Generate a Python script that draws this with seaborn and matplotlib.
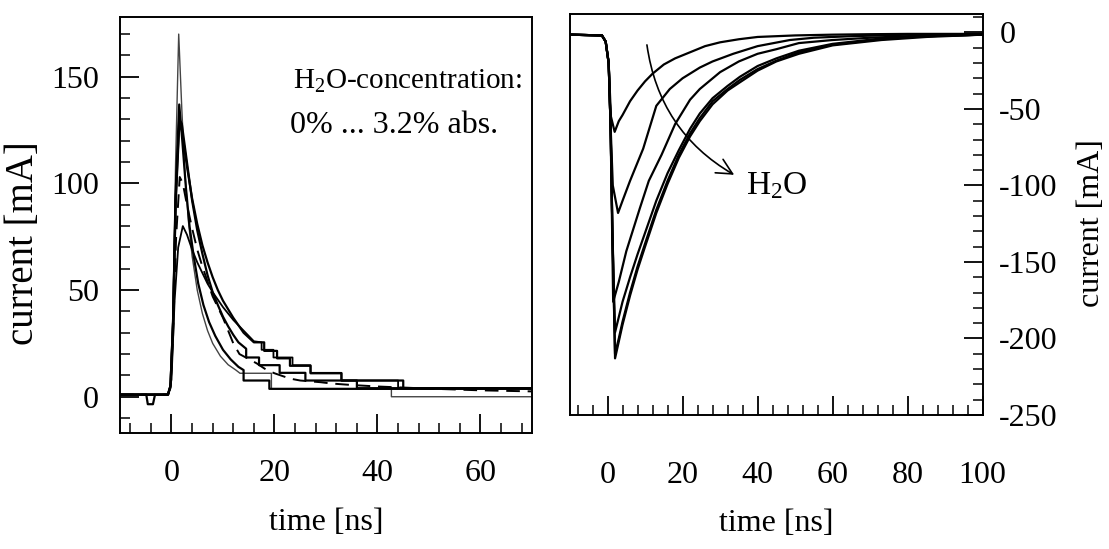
import matplotlib
matplotlib.use("Agg")
import matplotlib.pyplot as plt
from matplotlib.ticker import MultipleLocator
import numpy as np
import pandas as pd
import seaborn as sns

# ---------------- data ----------------
# Left panel: current pulses for increasing H2O concentration
tA = [-10, -0.7, -0.2, 0.3, 0.8, 1.4, 2.0, 2.6, 3.3, 4.0, 5.0, 6.0, 7.0, 8.0, 9.5, 11.0, 12.5, 13.3, 19.4, 19.4, 42.7, 42.7, 70]
iA = [1.0, 1.0, 5, 40, 110, 170, 135, 105, 82, 66, 50, 39, 31, 25, 19, 15, 12.5, 11, 11, 3.7, 3.7, 0, 0]

tB = [-10, -0.7, -0.2, 0.3, 0.8, 1.5, 2.1, 2.8, 3.5, 4.3, 5.2, 6.2, 7.3, 8.5, 10, 11.5, 13, 14, 14, 19, 19, 70]
iB = [1.0, 1.0, 5, 35, 95, 137, 120, 98, 80, 66, 53, 43, 35, 28.5, 22, 17.5, 14, 12.5, 7.6, 7.6, 3.7, 3.7]

tC = [-10, -0.7, -0.2, 0.3, 0.8, 1.5, 2.0, 3, 4, 5, 6, 7, 8, 9, 10, 11, 12, 13, 14.5, 14.5, 17, 17, 21, 21, 26, 26, 36, 36, 70]
iC = [1.0, 1.0, 5, 35, 92, 130, 128, 110, 92, 78, 67, 57, 49, 43, 37.5, 33, 29, 25.5, 22.5, 18.4, 18.4, 14.8, 14.8, 11.2, 11.2, 7.6, 7.6, 4.0, 4.0]

tD = [-10, -4.9, -4.6, -3.6, -3.2, -0.7, -0.2, 0.3, 0.8, 1.5, 2.0, 3, 4, 5, 6, 7, 8, 9, 10, 12, 14, 16, 18, 18, 20.5, 20.5, 23, 23, 27, 27, 33, 33, 45, 45, 70]
iD = [1.0, 1.0, -3.5, -3.5, 1.0, 1.0, 5, 33, 90, 127, 125, 108, 93, 81, 71, 63, 56, 50, 45, 37, 30, 25.5, 25.5, 21.5, 21.5, 18, 18, 14.5, 14.5, 11, 11, 7.6, 7.6, 4.0, 4.0]

tE = [-10, -0.7, -0.2, 0.3, 0.9, 1.6, 2.2, 3, 4, 5, 6, 8, 10, 12, 13.2, 16.5, 18.5, 20, 23, 25, 29, 31, 35, 40, 50, 60, 70]
iE = [1.0, 1.0, 4, 28, 75, 103, 100, 90, 79, 69, 61, 47, 37, 25, 20, 15.7, 12.5, 11, 8.5, 7.6, 6.8, 6.2, 5.5, 4.8, 3.8, 3.0, 2.5]

tF = [-10, -0.6, 0.0, 0.6, 1.3, 2.2, 3, 4, 5, 6, 7, 8, 9, 10, 12, 14, 16, 17.5, 17.5, 19.8, 19.8, 23.5, 23.5, 27, 27, 33, 33, 44, 44, 70]
iF = [1.0, 1.0, 8, 45, 70, 80, 76, 69, 63, 58, 53, 49, 45.5, 42, 36, 31, 26, 25.5, 22, 22, 18.4, 18.4, 14.8, 14.8, 11.2, 11.2, 7.6, 7.6, 4.0, 4.0]

left_series = [("A", tA, iA), ("B", tB, iB), ("C", tC, iC), ("D", tD, iD), ("E", tE, iE), ("F", tF, iF)]

# Right panel: negative current pulses, arrow shows increasing H2O
tR1 = [-10, -1.5, -0.5, 0.3, 0.9, 1.9, 3, 4, 6, 8, 10, 12, 15, 18, 22, 26, 30, 35, 40, 50, 60, 70, 80, 90, 100]
iR1 = [-1.5, -2, -6, -20, -55, -65, -58, -54, -45, -38, -32, -27, -21, -17, -13, -9, -6.5, -4.5, -3, -2, -1.5, -1.2, -1, -1, -1]

tR2 = [-10, -1.5, -0.5, 0.3, 0.8, 1.4, 2.8, 4, 6, 9.5, 13, 16.6, 20, 24.6, 28, 33.5, 40, 48.6, 55, 65, 80, 100]
iR2 = [-1.5, -2, -6, -20, -60, -100, -118, -110, -97, -76, -48, -37, -30, -23, -19, -14, -9, -5, -3.5, -2.5, -1.5, -1]

tR3 = [-10, -1.5, -0.5, 0.3, 0.8, 1.5, 3, 5, 8.6, 11, 14.4, 18, 22, 24.6, 30, 35, 40, 45, 51, 60, 70, 80, 90, 100]
iR3 = [-1.5, -2, -6, -20, -60, -176, -163, -143, -115, -97, -80, -60, -44, -37, -26, -19, -14, -11, -7, -5, -3.5, -2.5, -2, -1.5]

tR4 = [-10, -1.5, -0.5, 0.3, 0.8, 1.3, 2.0, 3, 4, 6, 8, 10, 13, 16, 19, 22, 24.6, 28, 32, 35.3, 40, 45, 51, 60, 73, 85, 100]
iR4 = [-1.5, -2, -6, -20, -60, -130, -196, -186, -176, -160, -145, -131, -110, -92, -77, -63, -53, -43, -35, -29, -22, -17, -12, -7.5, -4, -2.5, -1.5]

tR5 = [-10, -1.5, -0.5, 0.3, 0.8, 1.3, 2.0, 3, 4, 6, 8, 10, 13, 16, 19, 22, 24.6, 28, 32, 35.3, 40, 45, 51, 60, 73, 85, 100]
iR5 = [-1.5, -2, -6, -20, -60, -130, -210, -200, -189, -170, -153, -138, -116, -97, -80, -66, -56, -45, -37, -31, -24, -18.5, -13, -8, -4.5, -2.5, -1.5]

tR6 = [-10, -1.5, -0.5, 0.3, 0.8, 1.3, 2.0, 3, 4, 6, 8, 10, 13, 16, 19, 22, 24.6, 28, 32, 35.3, 40, 45, 51, 60, 73, 85, 100]
iR6 = [-1.5, -2, -6, -20, -60, -130, -213, -202, -191, -172, -155, -140, -118, -99, -82, -68, -58, -47, -38, -32.6, -25, -19, -14, -8.5, -5, -3, -1.5]

right_series = [("R1", tR1, iR1), ("R2", tR2, iR2), ("R3", tR3, iR3),
                ("R4", tR4, iR4), ("R5", tR5, iR5), ("R6", tR6, iR6)]

left_yticks = [0, 50, 100, 150]
right_yticks = [0, -50, -100, -150, -200, -250]
left_xticks = [0, 20, 40, 60]
right_xticks = [0, 20, 40, 60, 80, 100]

# ---------------- style ----------------
sns.set_theme(style="ticks")
plt.rcParams["font.family"] = ["Liberation Serif", "DejaVu Serif"]
plt.rcParams["mathtext.fontset"] = "custom"
plt.rcParams["mathtext.rm"] = "Liberation Serif"
plt.rcParams["mathtext.it"] = "Liberation Serif:italic"
plt.rcParams["axes.unicode_minus"] = False
plt.rcParams["axes.edgecolor"] = "black"
plt.rcParams["axes.labelcolor"] = "black"
plt.rcParams["axes.linewidth"] = 1.4
plt.rcParams["xtick.color"] = "black"
plt.rcParams["ytick.color"] = "black"
plt.rcParams["xtick.labelcolor"] = "black"
plt.rcParams["ytick.labelcolor"] = "black"
plt.rcParams["text.color"] = "black"

fig = plt.figure(figsize=(11.09, 5.49), dpi=100)
axL = fig.add_axes([0.1082, 0.2113, 0.3715, 0.7577])
axR = fig.add_axes([0.514, 0.2441, 0.3721, 0.7304])

# ---------------- left panel ----------------
styles_L = {"A": dict(lw=1.0, color="#444444", ls="-"),
            "B": dict(lw=1.6, color="black", ls="-"),
            "C": dict(lw=1.6, color="black", ls="-"),
            "D": dict(lw=1.6, color="black", ls="-"),
            "E": dict(lw=1.4, color="black", ls=(0, (7, 4))),
            "F": dict(lw=1.3, color="black", ls="-")}
for name, t, i in left_series:
    df = pd.DataFrame({"t": t, "i": i})
    sns.lineplot(data=df, x="t", y="i", ax=axL, sort=False, estimator=None,
                 legend=False, **styles_L[name])

axL.set_xlim(-10, 70)
axL.set_ylim(-17, 178)
axL.set_xticks(left_xticks)
axL.set_yticks(left_yticks)
axL.xaxis.set_minor_locator(MultipleLocator(4))
axL.yaxis.set_minor_locator(MultipleLocator(10))
axL.tick_params(which="major", direction="in", length=14, width=1.3, labelsize=23,
                colors="black")
axL.tick_params(axis="x", which="major", pad=19)
axL.tick_params(axis="y", which="major", pad=15)
axL.tick_params(which="minor", direction="in", length=7, width=1.1, colors="black")
axL.set_xlabel("time [ns]", fontsize=23, labelpad=14, color="black")
axL.set_ylabel("current [mA]", fontsize=28, color="black")
axL.yaxis.set_label_coords(-0.189, 0.457)

axL.text(68, 148, "H$_2$O-concentration:", fontsize=21, ha="right", va="center")
axL.text(43.2, 127, "0% ... 3.2% abs.", fontsize=23, ha="center", va="center")

# ---------------- right panel ----------------
for name, t, i in right_series:
    df = pd.DataFrame({"t": t, "i": i})
    sns.lineplot(data=df, x="t", y="i", ax=axR, sort=False, estimator=None,
                 legend=False, color="black", lw=1.6)

axR.set_xlim(-10, 100)
axR.set_ylim(-250, 12)
axR.set_xticks(right_xticks)
axR.set_yticks(right_yticks)
axR.xaxis.set_minor_locator(MultipleLocator(4))
axR.yaxis.set_minor_locator(MultipleLocator(10))
axR.yaxis.tick_right()
axR.yaxis.set_label_position("right")
axR.tick_params(which="major", direction="in", length=14, width=1.3, labelsize=23,
                colors="black")
axR.tick_params(axis="x", which="major", pad=33)
axR.tick_params(axis="y", which="major", pad=12)
axR.tick_params(which="minor", direction="in", length=7, width=1.1, colors="black")
for lab in axR.get_yticklabels():
    lab.set_horizontalalignment("left")
axR.set_xlabel("time [ns]", fontsize=23, labelpad=14, color="black")
axR.set_ylabel("current [mA]", fontsize=23, color="black")
axR.yaxis.set_label_coords(1.228, 0.479)

axR.annotate("", xy=(34.4, -94), xytext=(10.4, -6.4),
             arrowprops=dict(arrowstyle="->", connectionstyle="arc3,rad=0.25",
                             lw=1.2, color="black", mutation_scale=28))
axR.text(37, -100, "H$_2$O", fontsize=24, ha="left", va="center")

fig.savefig("out.png", dpi=100, facecolor="white")
